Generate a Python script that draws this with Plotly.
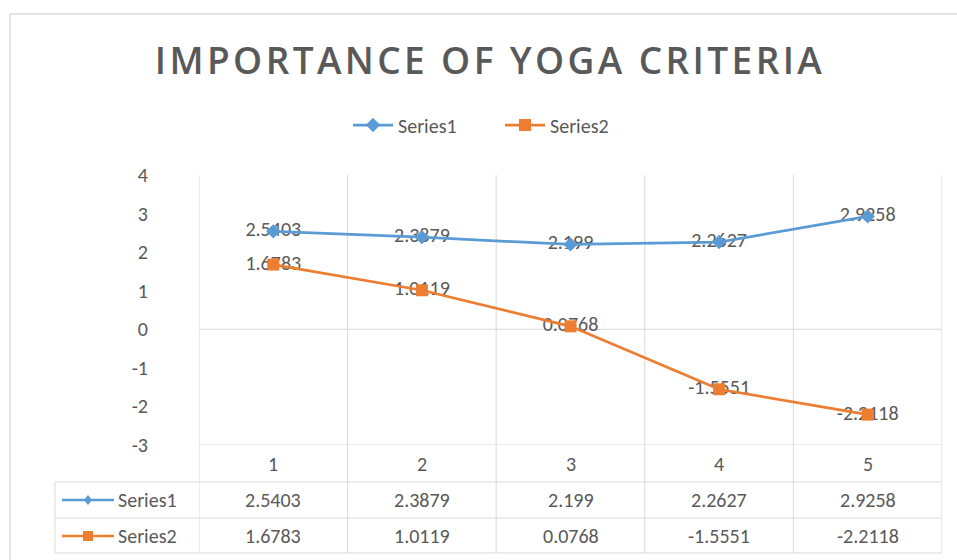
import plotly.graph_objects as go

# ---- data ----
categories = [1, 2, 3, 4, 5]
series_names = ["Series1", "Series2"]
series1 = [2.5403, 2.3879, 2.199, 2.2627, 2.9258]
series2 = [1.6783, 1.0119, 0.0768, -1.5551, -2.2118]
y_ticks = [4, 3, 2, 1, 0, -1, -2, -3]
title_text = "IMPORTANCE OF YOGA CRITERIA"

colors = ["#5B9BD5", "#ED7D31"]
symbols = ["diamond", "square"]
txt = "#595959"
grid = "#d9d9d9"
FONT = "Carlito, 'Liberation Sans Narrow', 'Open Sans', sans-serif"
FS = 20

W, H = 957, 560
L, R, T, B = 199, 942, 175, 445


def px(X):
    return (X - L) / (R - L)


def py(Y):
    return (B - Y) / (B - T)


fig = go.Figure()
all_series = [series1, series2]

# data labels (drawn under the markers, like the reference)
for vals in all_series:
    fig.add_trace(go.Scatter(
        x=categories, y=vals, mode="text",
        text=[f"{v:g}" for v in vals], textposition="middle center",
        textfont=dict(family=FONT, size=FS, color=txt),
        showlegend=False, hoverinfo="skip"))

for name, vals, c, s in zip(series_names, all_series, colors, symbols):
    fig.add_trace(go.Scatter(
        x=categories, y=vals, mode="lines+markers", name=name,
        line=dict(color=c, width=2.75),
        marker=dict(symbol=s, size=12 if s == "square" else 11, color=c)))

shapes = []
ann = []

# vertical category borders through plot and table
for k in range(len(categories) + 1):
    xv = categories[0] - 0.5 + k
    shapes.append(dict(type="line", xref="x", yref="paper", x0=xv, x1=xv,
                       y0=py(553), y1=1, line=dict(color=grid, width=1), layer="below"))
# horizontal zero line & bottom line
for yv in [0, y_ticks[-1]]:
    shapes.append(dict(type="line", xref="paper", yref="y", x0=0, x1=1,
                       y0=yv, y1=yv, line=dict(color=grid, width=1), layer="below"))
# table horizontal lines
for Y in [482, 518, 553]:
    shapes.append(dict(type="line", xref="paper", yref="paper", x0=px(55), x1=1,
                       y0=py(Y), y1=py(Y), line=dict(color=grid, width=1)))
# table left border
shapes.append(dict(type="line", xref="paper", yref="paper", x0=px(55), x1=px(55),
                   y0=py(553), y1=py(482), line=dict(color=grid, width=1)))
# outer chart border
shapes.append(dict(type="line", xref="paper", yref="paper", x0=px(10), x1=px(957),
                   y0=py(14), y1=py(14), line=dict(color=grid, width=1.5)))
shapes.append(dict(type="line", xref="paper", yref="paper", x0=px(10), x1=px(10),
                   y0=py(14), y1=py(560), line=dict(color=grid, width=1.5)))

# category row
for cat in categories:
    ann.append(dict(x=cat, y=py(464), xref="x", yref="paper", text=str(cat),
                    xanchor="center", yanchor="middle",
                    showarrow=False, font=dict(family=FONT, size=FS, color=txt)))

# series rows
row_centers = [500, 536]
for name, vals, c, s, rc in zip(series_names, all_series, colors, symbols, row_centers):
    for cat, v in zip(categories, vals):
        ann.append(dict(x=cat, y=py(rc), xref="x", yref="paper", text=f"{v:g}",
                        xanchor="center", yanchor="middle",
                        showarrow=False, font=dict(family=FONT, size=FS, color=txt)))
    # legend key
    shapes.append(dict(type="line", xref="paper", yref="paper", x0=px(62), x1=px(114),
                       y0=py(rc), y1=py(rc), line=dict(color=c, width=2.5)))
    cx = 88
    if s == "square":
        shapes.append(dict(type="rect", xref="paper", yref="paper",
                           x0=px(cx - 5), x1=px(cx + 5), y0=py(rc + 5), y1=py(rc - 5),
                           fillcolor=c, line=dict(width=0)))
    else:
        path = (f"M {px(cx)} {py(rc - 5)} L {px(cx + 4)} {py(rc)} "
                f"L {px(cx)} {py(rc + 5)} L {px(cx - 4)} {py(rc)} Z")
        shapes.append(dict(type="path", xref="paper", yref="paper", path=path,
                           fillcolor=c, line=dict(width=0)))
    ann.append(dict(x=px(116), y=py(rc), xref="paper", yref="paper", text=name,
                    xanchor="left", yanchor="middle", showarrow=False,
                    font=dict(family=FONT, size=FS, color=txt)))

fig.update_layout(
    width=W, height=H,
    margin=dict(l=L, r=W - R, t=T, b=H - B),
    paper_bgcolor="white", plot_bgcolor="white",
    title=dict(text=title_text, x=490 / W, xanchor="center", xref="container",
               y=1 - 61 / H, yanchor="middle", yref="container",
               font=dict(family="'Open Sans', sans-serif", size=37, color=txt, weight=600)),
    legend=dict(orientation="h", x=px(348), xanchor="left", y=py(125), yanchor="middle",
                font=dict(family=FONT, size=20, color=txt), itemwidth=40,
                entrywidth=97, entrywidthmode="pixels"),
    xaxis=dict(range=[categories[0] - 0.5, categories[-1] + 0.5], showgrid=False,
               showticklabels=False, zeroline=False, showline=False, fixedrange=True),
    yaxis=dict(range=[y_ticks[-1], y_ticks[0]], tickvals=y_ticks,
               ticktext=[str(t) for t in y_ticks], showgrid=False,
               zeroline=False, showline=False, ticks="",
               ticklabelstandoff=50,
               tickfont=dict(family=FONT, size=FS, color=txt)),
    shapes=shapes, annotations=ann,
)

post = ("document.body.style.margin='0';"
        "document.querySelectorAll('.gtitle').forEach(function(e){"
        "e.style.letterSpacing='3.4px';});")
fig.write_html("out.html", post_script=post, config={"displayModeBar": False})
